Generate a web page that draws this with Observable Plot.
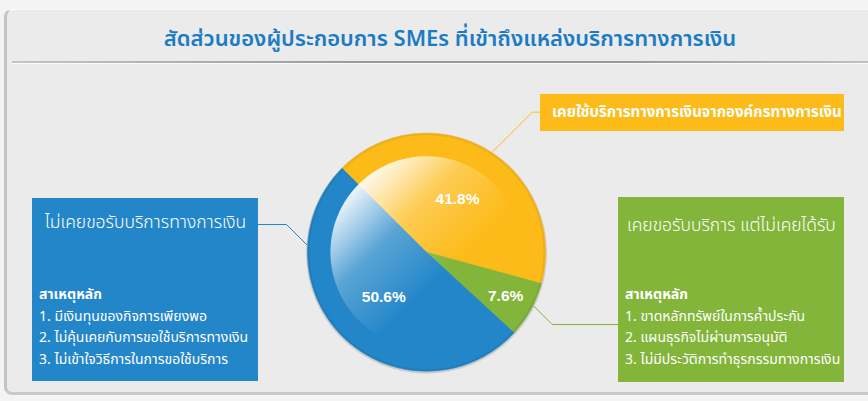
<!DOCTYPE html>
<html><head><meta charset="utf-8">
<script src="https://cdn.jsdelivr.net/npm/d3@7"></script>
<script src="https://cdn.jsdelivr.net/npm/@observablehq/plot@0.6"></script>
<style>
html,body{margin:0;padding:0;}
body{width:868px;height:401px;overflow:hidden;background:#f4f4f4;position:relative;font-family:"Noto Sans Thai","Tahoma","DejaVu Sans",sans-serif;}
#panel{position:absolute;left:4px;top:9px;width:900px;height:386px;border-radius:8px;background:#ebebeb;border-left:3px solid #c3c3c3;border-bottom:3px solid #c9c9c9;border-top:1px solid #fafafa;box-sizing:border-box;}
#title{position:absolute;left:0;width:900px;top:25px;text-align:center;color:#1b7cc4;font-size:22px;line-height:30px;font-weight:600;}
#rule{position:absolute;left:12px;top:61px;width:880px;height:2px;background:linear-gradient(to right,#c4c4c4,#9a9a9a 40%,#9a9a9a 70%,#c4c4c4);border-bottom:1px solid #fafafa;}
#chart{position:absolute;left:0;top:0;}
.box{position:absolute;color:#fff;box-sizing:border-box;}
#yBox{left:540px;top:94px;width:304px;height:37px;background:#FDBB1A;font-weight:bold;font-size:15px;line-height:37px;padding-left:12px;white-space:nowrap;}
#bBox{left:32px;top:198px;width:226px;height:183px;background:#2386C8;}
#gBox{left:618px;top:197px;width:226px;height:185px;background:#82B53A;}
.bt{position:absolute;top:13px;font-size:17.5px;line-height:24px;font-weight:300;white-space:nowrap;}
.rs{position:absolute;left:7px;top:86px;font-size:14px;line-height:21.5px;white-space:nowrap;}
.rs b{font-weight:bold;}
</style></head>
<body>
<div id="panel"></div>
<div id="title"></div>
<div id="rule"></div>
<div id="chart"></div>
<div class="box" id="yBox"></div>
<div class="box" id="bBox"><div class="bt" style="left:13px"></div><div class="rs"></div></div>
<div class="box" id="gBox"><div class="bt" style="left:9px;top:17px"></div><div class="rs" style="top:87px"></div></div>
<script>
const titleText = "สัดส่วนของผู้ประกอบการ SMEs ที่เข้าถึงแหล่งบริการทางการเงิน";
const categories = ["เคยใช้บริการทางการเงินจากองค์กรทางการเงิน", "เคยขอรับบริการ แต่ไม่เคยได้รับ", "ไม่เคยขอรับบริการทางการเงิน"];
const shares = [41.8, 7.6, 50.6];
const sliceColors = ["#FDBB1A", "#82B53A", "#2386C8"];
const reasonHeading = "สาเหตุหลัก";
const greenReasons = ["1. ขาดหลักทรัพย์ในการค้ำประกัน", "2. แผนธุรกิจไม่ผ่านการอนุมัติ", "3. ไม่มีประวัติการทำธุรกรรมทางการเงิน"];
const blueReasons = ["1. มีเงินทุนของกิจการเพียงพอ", "2. ไม่คุ้นเคยกับการขอใช้บริการทางเงิน", "3. ไม่เข้าใจวิธีการในการขอใช้บริการ"];

document.getElementById("title").textContent = titleText;
document.getElementById("yBox").textContent = categories[0];
document.querySelector("#gBox .bt").textContent = categories[1];
document.querySelector("#bBox .bt").textContent = categories[2];
function fillReasons(sel, list){
  const el = document.querySelector(sel);
  const b = document.createElement("b"); b.textContent = reasonHeading; el.appendChild(b);
  list.forEach(t => { el.appendChild(document.createElement("br")); el.appendChild(document.createTextNode(t)); });
}
fillReasons("#gBox .rs", greenReasons);
fillReasons("#bBox .rs", blueReasons);

// layout
const W = 868, H = 401, CX = 426, CY = 251.7, R = 119;
const startAngle = 314.8; // degrees clockwise from north
const toX = px => (px - CX) / R, toY = py => (CY - py) / R;

let acc = startAngle;
const slices = categories.map((c, i) => {
  const a0 = acc, a1 = acc + shares[i] / 100 * 360; acc = a1;
  return {slice: c, share: shares[i], color: sliceColors[i], a0, a1, mid: (a0 + a1) / 2};
});
function slicePoints(s) {
  const pts = [{x: 0, y: 0}];
  const n = Math.ceil((s.a1 - s.a0) * 2);
  for (let k = 0; k <= n; k++) {
    const t = (s.a0 + (s.a1 - s.a0) * k / n) * Math.PI / 180;
    pts.push({x: Math.sin(t), y: Math.cos(t)});
  }
  pts.push({x: 0, y: 0});
  return pts;
}
const glossR = 0.807;
const glossPts = d3.range(0, 361, 1).map(a => ({x: glossR * Math.sin(a * Math.PI / 180), y: glossR * Math.cos(a * Math.PI / 180)}));
const labels = slices.map(s => {
  const r = s.share < 10 ? 0.76 : 0.52, t = s.mid * Math.PI / 180;
  return {x: r * Math.sin(t), y: r * Math.cos(t), text: s.share.toFixed(1) + "%"};
});

// connectors: box anchor, elbow, 45° ray toward the pie rim
const connectors = [
  {slice: categories[0], anchor: [540, 111.7], elbow: [531.7, 111.7], dir: [-1, 1]},
  {slice: categories[1], anchor: [618, 324], elbow: [551.7, 324], dir: [-1, -1]},
  {slice: categories[2], anchor: [258, 224], elbow: [286, 224], dir: [1, 1]}
];
const connPts = [];
connectors.forEach(c => {
  const [ex, ey] = c.elbow; const L = Math.hypot(...c.dir); const dx = c.dir[0] / L, dy = c.dir[1] / L;
  const ox = ex - CX, oy = ey - CY, Rr = R * 1.01;
  const b = ox * dx + oy * dy, cc = ox * ox + oy * oy - Rr * Rr;
  const t = -b - Math.sqrt(Math.max(0, b * b - cc));
  [c.anchor, c.elbow, [ex + t * dx, ey + t * dy]].forEach(p => connPts.push({slice: c.slice, x: toX(p[0]), y: toY(p[1])}));
});

const svg = Plot.plot({
  width: W, height: H, margin: 0,
  style: {background: "transparent", overflow: "visible"},
  x: {domain: [toX(0), toX(W)], axis: null},
  y: {domain: [toY(H), toY(0)], axis: null},
  color: {domain: categories, range: sliceColors},
  marks: [
    Plot.line(connPts, {x: "x", y: "y", z: "slice", stroke: "slice", strokeWidth: 1, curve: "linear"}),
    Plot.dot([{x: 0, y: -0.008}], {x: "x", y: "y", r: R + 1.5, fill: "#000", fillOpacity: 0.13, stroke: "none"}),
    ...slices.map(s => Plot.line(slicePoints(s), {x: "x", y: "y", fill: s.color, stroke: s.color, strokeWidth: 0.6, curve: "linear"})),
    Plot.dot([{x: 0, y: 0}], {x: "x", y: "y", r: R - 1, fill: "none", stroke: "#000", strokeOpacity: 0.06, strokeWidth: 2}),
    Plot.line(glossPts, {x: "x", y: "y", fill: "url(#gloss)", stroke: "none", curve: "linear"}),
    Plot.text(labels, {x: "x", y: "y", text: "text", fill: "white", fontSize: 15.5, fontWeight: "bold", fontFamily: "Liberation Sans, Arial, sans-serif"})
  ]
});
const defs = d3.select(svg).insert("defs", ":first-child");
const g = defs.append("linearGradient").attr("id", "gloss").attr("x1", "0.12").attr("y1", "0.12").attr("x2", "0.6").attr("y2", "0.6");
g.append("stop").attr("offset", "0").attr("stop-color", "#fff").attr("stop-opacity", 1);
g.append("stop").attr("offset", "0.5").attr("stop-color", "#fff").attr("stop-opacity", 0.25);
g.append("stop").attr("offset", "1").attr("stop-color", "#fff").attr("stop-opacity", 0);
document.getElementById("chart").appendChild(svg);
</script>
</body></html>
